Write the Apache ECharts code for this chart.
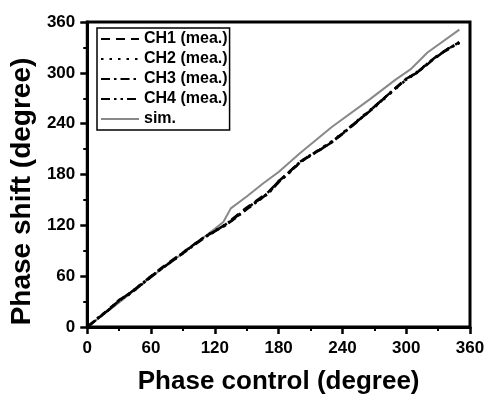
<!DOCTYPE html>
<html>
<head>
<meta charset="utf-8">
<script src="https://cdn.jsdelivr.net/npm/echarts@6/dist/echarts.min.js"></script>
<style>html,body{margin:0;padding:0;background:#fff}#c{width:488px;height:400px}</style>
</head>
<body>
<div id="c"></div>
<script>
var ctrl = [0,10,20,30,40,50,60,70,80,90,100,110,120,130,140,150,160,170,180,190,200,210,220,230,240,250,260,270,280,290,300,310,320,330,340,350];
var ch1 = [0,10,21,31,40,50,60,70,79,88,97,106,113,121,131,141,150,159,172,183,195,203,210,218,228,239,249,260,271,282,293,300,311,321,329,336];
var ch2 = [0,10,20,31,39,49,59,69,78,87,97,106,114,120,130,140,149,158,171,182,194,203,211,219,229,239,250,260,270,281,292,301,311,320,329,335];
var ch3 = [0,11,20,32,39,49,59,69,78,87,96,105,113,120,129,139,148,158,172,183,195,202,210,218,228,238,249,259,271,282,293,300,310,321,328,336];
var ch4 = [0,10,20,31,40,50,60,69,78,88,97,106,113,121,130,140,149,157,171,182,194,203,210,219,228,239,249,260,271,282,292,300,311,320,329,336];
var simX = [0,30,60,90,120,128,135,150,165,180,200,230,266,290,304,320,350];
var simY = [0,29,59,87,116,124,140,154,169,183,205,236,269,292,304,324,351];
var xTicks = [0,60,120,180,240,300,360];
var yTicks = [0,60,120,180,240,300,360];
var names = ['CH1 (mea.)','CH2 (mea.)','CH3 (mea.)','CH4 (mea.)','sim.'];

function pairs(xs, ys){ return xs.map(function(x,i){return [x, ys[i]];}); }
var F = 'Liberation Sans, Arial, sans-serif';
function ser(name, ys, dash){
  return {name:name, type:'line', data:pairs(ctrl, ys), symbol:'none', smooth:false,
    lineStyle:{color:'#000', width:2.5, type:dash}, itemStyle:{color:'#000'}, z:3};
}
var chart = echarts.init(document.getElementById('c'), null, {renderer:'canvas'});
chart.setOption({
  animation:false,
  backgroundColor:'#fff',
  grid:{left:86, right:18, top:22, bottom:69, show:true, borderColor:'#000', borderWidth:3},
  legend:{
    left:97, top:28, orient:'vertical', itemWidth:38, itemHeight:14, itemGap:4,
    padding:[3,2,3,3], borderColor:'#000', borderWidth:1.5, backgroundColor:'#fff',
    itemStyle:{opacity:0},
    textStyle:{fontFamily:F, fontWeight:'bold', fontSize:16, color:'#000'},
    data:names
  },
  xAxis:{type:'value', min:0, max:360, interval:60,
    name:'Phase control (degree)', nameLocation:'middle', nameGap:42,
    nameTextStyle:{fontFamily:F, fontWeight:'bold', fontSize:26, color:'#000'},
    axisLine:{show:true, lineStyle:{color:'#000', width:3}},
    axisTick:{show:true, inside:false, length:7, lineStyle:{color:'#000', width:2.5}},
    minorTick:{show:true, splitNumber:2, length:4, lineStyle:{color:'#000', width:2}},
    axisLabel:{fontFamily:F, fontWeight:'bold', fontSize:17, color:'#000', margin:13,
      formatter:function(v){return xTicks.indexOf(v)>=0? String(v):'';}},
    splitLine:{show:false}},
  yAxis:{type:'value', min:0, max:360, interval:60,
    name:'Phase shift (degree)', nameLocation:'middle', nameGap:40,
    nameTextStyle:{fontFamily:F, fontWeight:'bold', fontSize:28, color:'#000', padding:[0,34,0,0]},
    axisLine:{show:true, lineStyle:{color:'#000', width:3}},
    axisTick:{show:true, inside:false, length:7, lineStyle:{color:'#000', width:2.5}},
    minorTick:{show:true, splitNumber:2, length:4, lineStyle:{color:'#000', width:2}},
    axisLabel:{fontFamily:F, fontWeight:'bold', fontSize:17, color:'#000', margin:12,
      formatter:function(v){return yTicks.indexOf(v)>=0? String(v):'';}},
    splitLine:{show:false}},
  series:[
    ser(names[0], ch1, [9,6]),
    ser(names[1], ch2, [2.5,6]),
    ser(names[2], ch3, [9,4,2.5,4]),
    ser(names[3], ch4, [9,4,2.5,4,2.5,4]),
    {name:names[4], type:'line', data:pairs(simX, simY), symbol:'none',
      lineStyle:{color:'#888', width:2, type:'solid'}, itemStyle:{color:'#888'}, z:2}
  ]
});
</script>
</body>
</html>
